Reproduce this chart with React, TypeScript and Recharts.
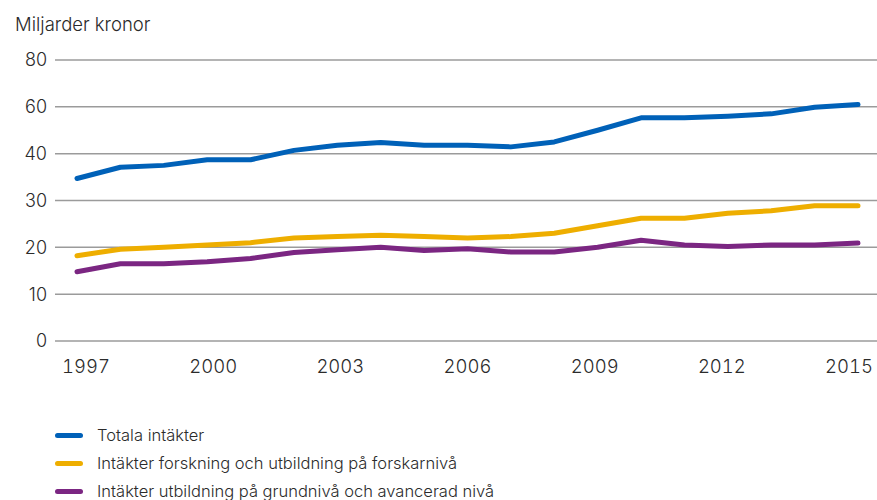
import React from 'react';
import { LineChart, Line, XAxis, YAxis, CartesianGrid, Legend } from 'recharts';

// Miljarder kronor, 1997–2015
const years = [
  1997, 1998, 1999, 2000, 2001, 2002, 2003, 2004, 2005, 2006,
  2007, 2008, 2009, 2010, 2011, 2012, 2013, 2014, 2015,
];
const totala = [
  34.7, 37.1, 37.5, 38.7, 38.7, 41.4, 43.6, 44.8, 43.6, 43.6,
  42.9, 45.0, 50.0, 55.3, 55.3, 56.0, 57.0, 59.8, 61.0,
];
const forskning = [
  18.2, 19.6, 20.0, 20.5, 21.0, 22.0, 22.3, 22.6, 22.3, 22.0,
  22.3, 23.0, 24.6, 26.2, 26.2, 27.3, 27.8, 28.9, 28.9,
];
const utbildning = [
  14.8, 16.5, 16.5, 16.9, 17.6, 18.9, 19.5, 20.0, 19.3, 19.7,
  19.0, 19.0, 20.0, 21.5, 20.5, 20.2, 20.5, 20.5, 20.9,
];
const yTicks = [0, 10, 20, 30, 40, 60, 80];
const xTicks = [1997, 2000, 2003, 2006, 2009, 2012, 2015];

const SERIES = [
  { key: 'totala', name: 'Totala intäkter', color: '#0061b8' },
  { key: 'forskning', name: 'Intäkter forskning och utbildning på forskarnivå', color: '#eeae00' },
  { key: 'utbildning', name: 'Intäkter utbildning på grundnivå och avancerad nivå', color: '#7b2682' },
];

const data = years.map((year, i) => ({
  year,
  totala: totala[i],
  forskning: forskning[i],
  utbildning: utbildning[i],
}));

const FONT = 'Inter, "Open Sans", sans-serif';
const TEXT = '#2b2b2b';

// axeln är bruten: 0–40 tar två tredjedelar av höjden, 40–80 resten
function brokenScale(dom: number[] = [0, 80], rng: number[] = [0, 1]): any {
  let d = dom;
  let r = rng;
  const frac = (v: number) => (v <= 40 ? (v / 40) * (4 / 6) : 4 / 6 + ((v - 40) / 40) * (2 / 6));
  const s: any = (v: number) => r[0] + (r[1] - r[0]) * frac(v);
  s.domain = (x?: number[]) => (x === undefined ? d : ((d = x), s));
  s.range = (x?: number[]) => (x === undefined ? r : ((r = x), s));
  s.copy = () => brokenScale(d, r);
  s.ticks = () => yTicks;
  s.tickFormat = () => (v: number) => String(v);
  s.invert = (px: number) => {
    const f = (px - r[0]) / (r[1] - r[0]);
    return f <= 4 / 6 ? (f / (4 / 6)) * 40 : 40 + ((f - 4 / 6) / (2 / 6)) * 40;
  };
  return s;
}

const XTick = (props: any) => {
  const { x, y, payload, index } = props;
  return (
    <text
      x={x + (3 - index) * 3}
      y={y}
      dy={24}
      textAnchor="middle"
      fill={TEXT}
      fontSize={18.5}
      fontFamily={FONT}
      fontWeight={300}
      style={{ fontVariantNumeric: 'tabular-nums' }}
    >
      {payload.value}
    </text>
  );
};

const LegendRows = () => (
  <div style={{ fontFamily: FONT, fontWeight: 300, fontSize: 16.5, color: TEXT }}>
    {SERIES.map((s) => (
      <div key={s.key} style={{ display: 'flex', alignItems: 'center', height: 28 }}>
        <span
          style={{
            display: 'inline-block',
            width: 28,
            height: 5,
            borderRadius: 3,
            background: s.color,
            marginRight: 14,
          }}
        />
        {s.name}
      </div>
    ))}
  </div>
);

export default function App() {
  return (
    <div style={{ position: 'absolute', left: 0, top: 0, width: 877, height: 500, background: '#fff', overflow: 'hidden' }}>
      <div
        style={{
          position: 'absolute',
          left: 15,
          top: 13,
          fontFamily: FONT,
          fontWeight: 300,
          fontSize: 18.5,
          lineHeight: '22px',
          color: TEXT,
        }}
      >
        Miljarder kronor
      </div>
      <LineChart width={877} height={500} data={data} margin={{ top: 60, right: 0, bottom: 0, left: 0 }}>
        <CartesianGrid vertical={false} stroke="#9b9b9b" strokeWidth={1.5} />
        <XAxis
          dataKey="year"
          type="number"
          domain={[1997, 2015]}
          ticks={xTicks}
          padding={{ left: 22, right: 19 }}
          axisLine={false}
          tickLine={false}
          tick={<XTick />}
          height={75}
          interval={0}
        />
        <YAxis
          width={55}
          scale={brokenScale()}
          domain={[0, 80]}
          ticks={yTicks}
          interval={0}
          axisLine={false}
          tickLine={false}
          tick={{ fill: TEXT, fontSize: 18, fontFamily: FONT, fontWeight: 300 }}
        />
        <Legend
          layout="horizontal"
          verticalAlign="bottom"
          align="left"
          content={<LegendRows />}
          wrapperStyle={{ left: 55, top: 421, width: 700, height: 84 }}
        />
        {SERIES.map((s) => (
          <Line
            key={s.key}
            dataKey={s.key}
            name={s.name}
            type="linear"
            stroke={s.color}
            strokeWidth={5}
            strokeLinecap="round"
            strokeLinejoin="round"
            dot={false}
            activeDot={false}
            isAnimationActive={false}
          />
        ))}
      </LineChart>
    </div>
  );
}
